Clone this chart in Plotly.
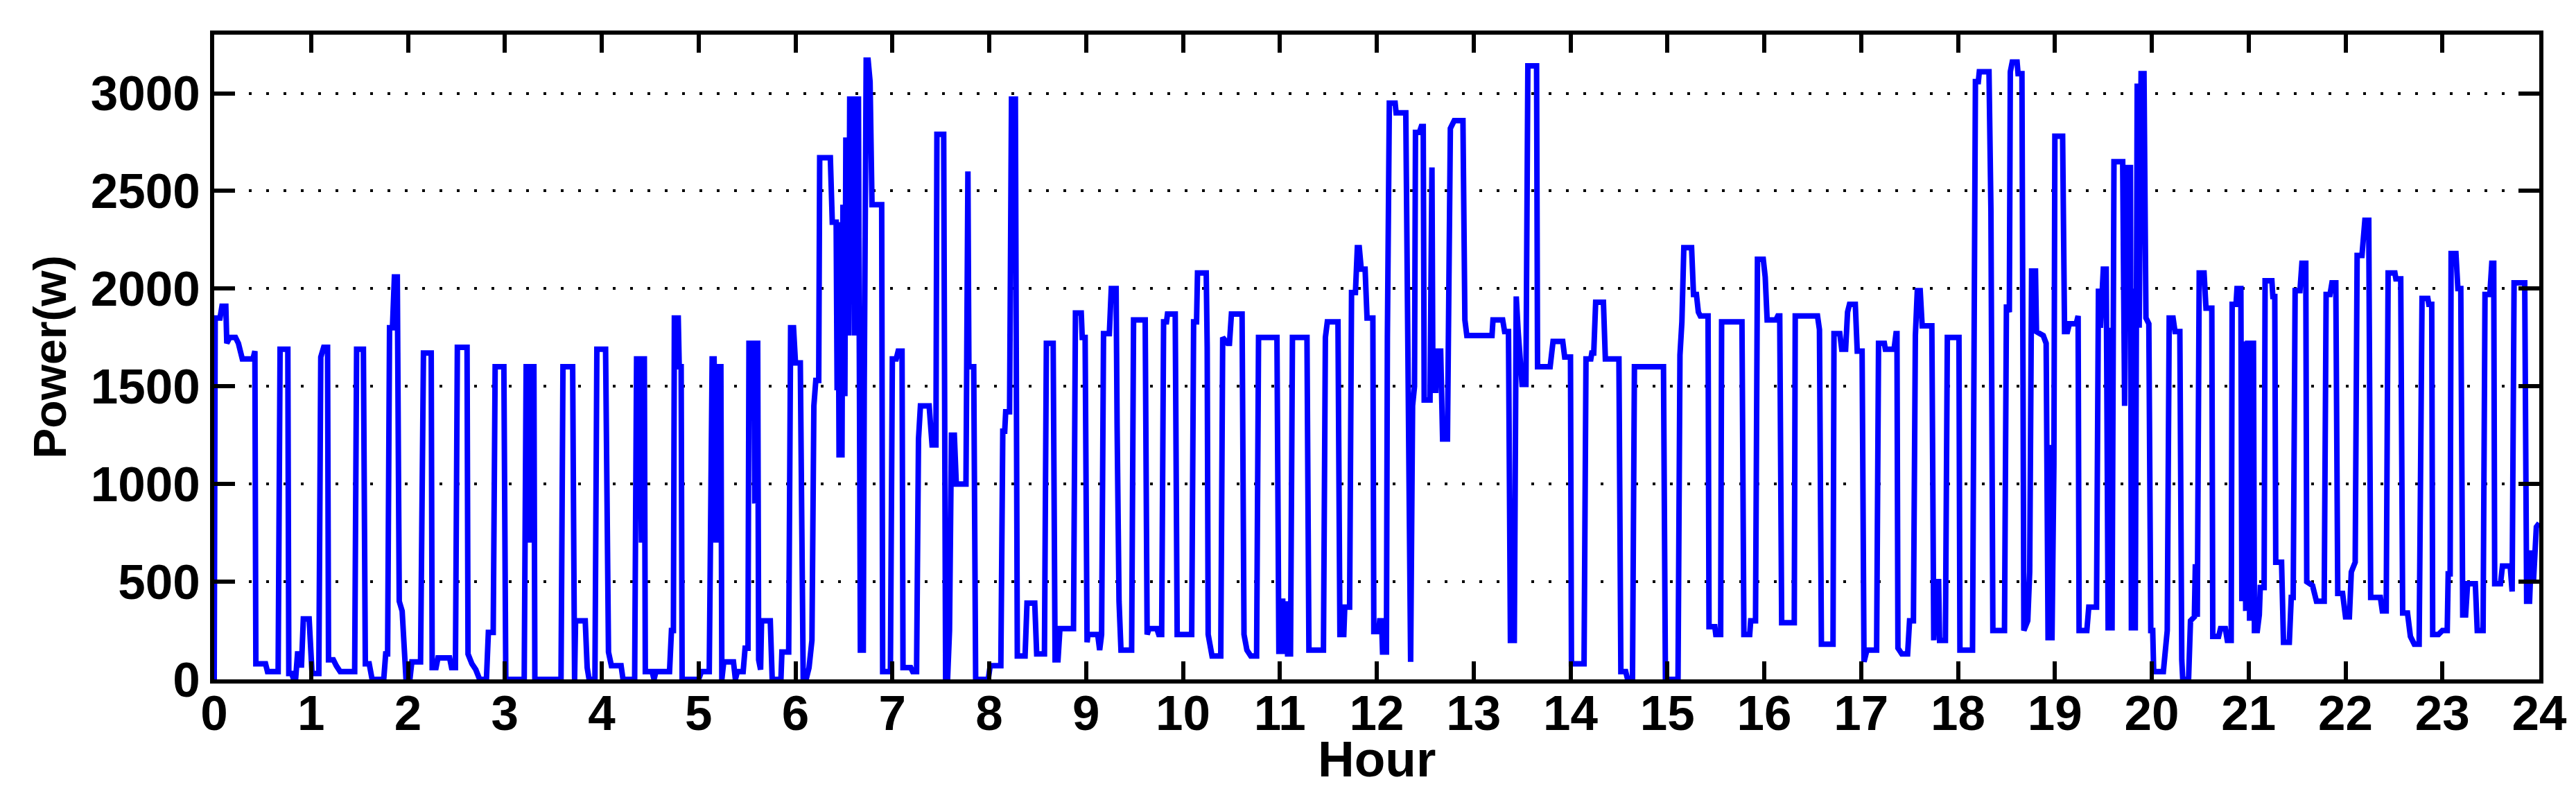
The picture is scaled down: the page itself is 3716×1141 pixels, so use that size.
import plotly.graph_objects as go

# ---- data: hour of day and power (W) ----
t_a = [0.00, 0.01, 0.06, 0.08, 0.12, 0.13, 0.16, 0.22, 0.25, 0.29,
       0.40, 0.42, 0.43, 0.53, 0.55, 0.66, 0.68, 0.76, 0.77, 0.80,
       0.82, 0.84, 0.86, 0.89, 0.90, 0.92, 0.98, 1.01, 1.08, 1.10,
       1.13, 1.17, 1.18, 1.23, 1.26, 1.30, 1.45, 1.47, 1.54, 1.56,
       1.60, 1.63, 1.75, 1.77, 1.79, 1.81, 1.84, 1.86, 1.89, 1.91,
       1.94, 1.98, 2.02, 2.04, 2.13, 2.16, 2.24, 2.25, 2.29, 2.31,
       2.43, 2.45, 2.49, 2.51, 2.61, 2.62, 2.66, 2.70, 2.74, 2.81,
       2.83, 2.88, 2.90, 2.99, 3.01, 3.20, 3.22, 3.25, 3.26, 3.28,
       3.30, 3.31, 3.58, 3.60, 3.70, 3.72, 3.73, 3.83, 3.85, 3.87,
       3.93, 3.95, 4.04, 4.07, 4.10, 4.20, 4.22, 4.34]
p_a = [0, 1850, 1850, 1910, 1910, 1720, 1750, 1750, 1720, 1640,
       1640, 1680, 80, 80, 40, 40, 1690, 1690, 30, 30,
       0, 0, 130, 130, 60, 310, 310, 30, 30, 1650,
       1700, 1700, 100, 100, 70, 40, 40, 1690, 1690, 80,
       80, 0, 0, 130, 130, 1800, 1800, 2060, 2060, 400,
       350, 0, 0, 90, 90, 1670, 1670, 60, 60, 110,
       110, 60, 60, 1700, 1700, 130, 80, 50, 0, 0,
       240, 240, 1600, 1600, 0, 0, 1600, 1600, 700, 1600,
       1600, 0, 0, 1600, 1600, 0, 300, 300, 60, 0,
       0, 1690, 1690, 140, 70, 70, 0, 0]

t_b = [4.36, 4.39, 4.41, 4.42, 4.44, 4.45, 4.52, 4.54, 4.56, 4.70,
       4.72, 4.74, 4.75, 4.79, 4.80, 4.82, 4.83, 5.00, 5.03, 5.11,
       5.14, 5.16, 5.18, 5.19, 5.23, 5.24, 5.26, 5.36, 5.38, 5.40,
       5.46, 5.48, 5.51, 5.52, 5.57, 5.58, 5.59, 5.61, 5.62, 5.64,
       5.65, 5.74, 5.76, 5.85, 5.86, 5.93, 5.95, 5.98, 6.00, 6.05,
       6.08, 6.11, 6.14, 6.17, 6.19, 6.21, 6.24, 6.25, 6.36, 6.38,
       6.42, 6.43, 6.44, 6.45, 6.48, 6.49, 6.51, 6.52, 6.54, 6.55,
       6.56, 6.60, 6.61, 6.63, 6.65, 6.67, 6.70, 6.71, 6.73, 6.75,
       6.77, 6.79, 6.89, 6.90, 6.98, 7.00, 7.04, 7.06, 7.10, 7.11,
       7.19, 7.21, 7.25, 7.27, 7.29, 7.38, 7.41, 7.45, 7.46, 7.53,
       7.55, 7.57, 7.59, 7.61, 7.64, 7.66, 7.76, 7.78, 7.79, 7.84,
       7.86, 7.99, 8.01, 8.12, 8.14, 8.16, 8.17, 8.21, 8.23, 8.27,
       8.29, 8.37, 8.39, 8.47, 8.49, 8.57, 8.59, 8.66, 8.68, 8.71,
       8.73, 8.87, 8.89, 8.95, 8.96, 8.99, 9.00]
p_b = [1640, 1640, 700, 1640, 1640, 40, 40, 0, 40, 40,
       250, 250, 1850, 1850, 1600, 1600, 0, 0, 40, 40,
       1640, 1640, 700, 1600, 1600, 0, 90, 90, 0, 40,
       40, 160, 160, 1720, 1720, 900, 1720, 1720, 100, 50,
       300, 300, 0, 0, 140, 140, 1800, 1800, 1620, 1620,
       0, 0, 60, 200, 1400, 1530, 1530, 2670, 2670, 2340,
       2340, 1480, 2340, 1150, 1150, 2430, 1450, 2760, 2760, 1760,
       2970, 2970, 1760, 2970, 2970, 150, 150, 1500, 3170, 3170,
       3060, 2430, 2430, 40, 40, 1640, 1640, 1680, 1680, 60,
       60, 40, 40, 1230, 1400, 1400, 1200, 1200, 2790, 2790,
       0, 0, 250, 1250, 1250, 1000, 1000, 2600, 1600, 1600,
       0, 0, 70, 70, 1270, 1270, 1370, 1370, 2970, 2970,
       120, 120, 390, 390, 130, 130, 1720, 1720, 100, 100,
       260, 260, 1875, 1875, 1750, 1750, 190]

t_c = [9.01, 9.02, 9.12, 9.14, 9.16, 9.18, 9.24, 9.26, 9.31, 9.32,
       9.34, 9.36, 9.47, 9.49, 9.61, 9.63, 9.65, 9.73, 9.75, 9.78,
       9.80, 9.83, 9.84, 9.92, 9.94, 10.09, 10.11, 10.14, 10.15, 10.24,
       10.25, 10.26, 10.28, 10.30, 10.39, 10.41, 10.46, 10.48, 10.50, 10.61,
       10.63, 10.66, 10.70, 10.76, 10.78, 10.97, 10.99, 11.01, 11.03, 11.04,
       11.07, 11.08, 11.11, 11.13, 11.28, 11.30, 11.45, 11.47, 11.49, 11.60,
       11.62, 11.66, 11.67, 11.72, 11.74, 11.78, 11.80, 11.82, 11.84, 11.88,
       11.90, 11.96, 11.97, 12.02, 12.03, 12.05, 12.06, 12.10]
p_c = [190, 230, 230, 150, 230, 1770, 1770, 2000, 2000, 1300,
       400, 150, 150, 1840, 1840, 230, 260, 260, 230, 230,
       1830, 1830, 1870, 1870, 230, 230, 1830, 1830, 2080, 2080,
       1700, 230, 170, 120, 120, 1750, 1720, 1720, 1870, 1870,
       230, 150, 120, 120, 1750, 1750, 130, 400, 400, 130,
       400, 130, 130, 1750, 1750, 150, 150, 1750, 1830, 1830,
       230, 230, 370, 370, 1980, 1980, 2210, 2210, 2100, 2100,
       1850, 1850, 245, 245, 300, 300, 140, 140]

t_d = [12.11, 12.13, 12.19, 12.20, 12.30, 12.32, 12.35, 12.37, 12.39, 12.40,
       12.44, 12.46, 12.48, 12.49, 12.55, 12.57, 12.58, 12.61, 12.62, 12.66,
       12.68, 12.73, 12.76, 12.80, 12.89, 12.91, 12.93, 13.19, 13.20, 13.30,
       13.32, 13.36, 13.38, 13.42, 13.44, 13.46, 13.50, 13.54, 13.56, 13.65,
       13.66, 13.79, 13.82, 13.92, 13.94, 14.00, 14.01, 14.14, 14.16, 14.21,
       14.22, 14.24, 14.26, 14.34, 14.36, 14.50, 14.52, 14.57, 14.59, 14.64,
       14.66, 14.96, 14.98, 15.11]
p_d = [1750, 2950, 2950, 2900, 2900, 1400, 90, 1400, 1500, 2800,
       2800, 2830, 2830, 1430, 1430, 2620, 1480, 1480, 1680, 1680,
       1230, 1230, 2820, 2860, 2860, 1840, 1760, 1760, 1840, 1840,
       1780, 1780, 200, 200, 1960, 1780, 1510, 1510, 3140, 3140,
       1600, 1600, 1730, 1730, 1650, 1650, 80, 80, 1640, 1640,
       1670, 1670, 1930, 1930, 1640, 1640, 40, 40, 0, 0,
       1600, 1600, 0, 0]

t_e = [15.13, 15.15, 15.17, 15.25, 15.27, 15.30, 15.32, 15.34, 15.42, 15.43,
       15.49, 15.50, 15.55, 15.56, 15.77, 15.79, 15.85, 15.86, 15.91, 15.93,
       15.99, 16.01, 16.03, 16.12, 16.14, 16.16, 16.18, 16.31, 16.32, 16.55,
       16.57, 16.59, 16.71, 16.72, 16.78, 16.80, 16.84, 16.86, 16.88, 16.94,
       16.96, 17.01, 17.03, 17.06, 17.16, 17.18, 17.24, 17.25, 17.34, 17.36,
       17.37, 17.38, 17.42, 17.48, 17.50, 17.54, 17.56, 17.58, 17.61, 17.63,
       17.73, 17.75, 17.77, 17.80, 17.81, 17.87, 17.89, 18.01]
p_e = [1660, 1830, 2210, 2210, 1970, 1970, 1880, 1860, 1860, 270,
       270, 230, 230, 1830, 1830, 230, 230, 300, 300, 2150,
       2150, 2060, 1840, 1840, 1860, 1860, 290, 290, 1860, 1860,
       1790, 180, 180, 1770, 1770, 1690, 1690, 1880, 1920, 1920,
       1680, 1680, 90, 150, 150, 1720, 1720, 1690, 1690, 1770,
       1770, 160, 130, 130, 300, 300, 1760, 1990, 1990, 1810,
       1810, 200, 500, 500, 200, 200, 1750, 1750]

t_f = [18.02, 18.15, 18.17, 18.18, 18.21, 18.22, 18.32, 18.34, 18.36, 18.48,
       18.50, 18.53, 18.54, 18.56, 18.61, 18.62, 18.66, 18.68, 18.72, 18.74,
       18.76, 18.80, 18.81, 18.88, 18.91, 18.93, 18.95, 18.97, 18.99, 19.00,
       19.08, 19.10, 19.13, 19.15, 19.22, 19.24, 19.25, 19.33, 19.35, 19.43,
       19.45, 19.47, 19.50, 19.53, 19.55, 19.57, 19.59, 19.61, 19.70, 19.72,
       19.74, 19.78, 19.79, 19.81, 19.83, 19.85, 19.87, 19.89, 19.92, 19.94,
       19.97, 19.99, 20.01, 20.02, 20.12, 20.14, 20.16, 20.18, 20.22, 20.24,
       20.29, 20.31, 20.32, 20.38, 20.40, 20.44, 20.45, 20.47, 20.49, 20.54,
       20.56, 20.62, 20.63, 20.69, 20.71, 20.76, 20.78, 20.82, 20.83, 20.87,
       20.88, 20.92, 20.93, 20.95]
p_f = [150, 150, 2000, 3060, 3060, 3110, 3110, 2400, 250, 250,
       1920, 1880, 3110, 3160, 3160, 3100, 3100, 250, 300, 550,
       2090, 2090, 1780, 1760, 1720, 200, 1200, 200, 1100, 2780,
       2780, 1780, 1780, 1820, 1820, 1860, 250, 250, 370, 370,
       2000, 1800, 2100, 2100, 250, 1800, 250, 2650, 2650, 1400,
       2620, 2620, 250, 2000, 250, 3050, 1800, 3100, 3100, 1850,
       1820, 250, 250, 40, 40, 200, 250, 1850, 1850, 1780,
       1780, 100, 0, 0, 300, 320, 590, 320, 2080, 2080,
       1900, 1900, 220, 220, 260, 260, 200, 200, 1920, 1920,
       2000, 2000, 400, 1730]

t_g = [20.97, 20.99, 21.00, 21.01, 21.03, 21.05, 21.06, 21.09, 21.11, 21.12,
       21.16, 21.17, 21.24, 21.25, 21.27, 21.28, 21.34, 21.36, 21.42, 21.44,
       21.46, 21.48, 21.53, 21.55, 21.59, 21.60, 21.66, 21.70, 21.78, 21.80,
       21.84, 21.86, 21.90, 21.92, 21.97, 22.00, 22.04, 22.06, 22.10, 22.12,
       22.17, 22.20, 22.24, 22.26, 22.36, 22.38, 22.42, 22.44, 22.51, 22.52,
       22.57, 22.59, 22.64, 22.67, 22.71, 22.76, 22.79, 22.85, 22.86, 22.89,
       22.90, 22.96, 23.00, 23.05, 23.06, 23.08, 23.09, 23.14, 23.16, 23.19,
       23.21, 23.24, 23.26, 23.34, 23.36, 23.42, 23.44, 23.49, 23.51, 23.53,
       23.54, 23.60, 23.62, 23.70, 23.72, 23.74, 23.85, 23.87, 23.90, 23.92,
       23.94, 23.97, 24.00]
p_g = [350, 1720, 1720, 300, 1720, 1720, 250, 250, 330, 470,
       470, 2040, 2040, 1960, 1960, 600, 600, 190, 190, 420,
       420, 1990, 1990, 2130, 2130, 500, 480, 400, 400, 1970,
       1970, 2030, 2030, 440, 440, 320, 320, 550, 600, 2170,
       2170, 2350, 2350, 420, 420, 350, 350, 2080, 2080, 2050,
       2050, 340, 340, 220, 180, 180, 1950, 1950, 1920, 1920,
       230, 230, 250, 250, 540, 540, 2180, 2180, 2000, 2000,
       330, 330, 490, 490, 250, 250, 1970, 1970, 2130, 2130,
       490, 490, 580, 580, 450, 2030, 2030, 400, 400, 660,
       500, 780, 800]

x_ticks = list(range(0, 25))
y_ticks = [0, 500, 1000, 1500, 2000, 2500, 3000]
x_title = "Hour"
y_title = "Power(w)"

hours = []
power = []
for tt, pp in [(t_a, p_a), (t_b, p_b), (t_c, p_c), (t_d, p_d),
               (t_e, p_e), (t_f, p_f), (t_g, p_g)]:
    n = min(len(tt), len(pp))
    hours += tt[:n]
    power += pp[:n]

FAMILY = "Liberation Sans, Arial, sans-serif"
tick_font = dict(family=FAMILY, size=71, color="black", weight="bold")
xtitle_font = dict(family=FAMILY, size=73, color="black", weight="bold")
ytitle_font = dict(family=FAMILY, size=66, color="black", weight="bold")

fig = go.Figure(go.Scatter(x=hours, y=power, mode="lines",
                           line=dict(color="#0000FF", width=8),
                           hoverinfo="skip"))

fig.update_layout(width=3716, height=1141,
                  margin=dict(l=301, r=61, t=42, b=169),
                  paper_bgcolor="white", plot_bgcolor="white",
                  showlegend=False, font=tick_font)

fig.update_xaxes(range=[0, 24], tickmode="array", tickvals=x_ticks,
                 ticktext=[str(v) for v in x_ticks],
                 ticks="inside", ticklen=26, tickwidth=6, tickcolor="black",
                 showline=True, linewidth=6, linecolor="black", mirror="ticks",
                 showgrid=False, zeroline=False, tickfont=tick_font,
                 ticklabelstandoff=-18)

fig.update_yaxes(range=[0, 3300], tickmode="array", tickvals=y_ticks,
                 ticktext=[str(v) for v in y_ticks],
                 ticks="inside", ticklen=30, tickwidth=6, tickcolor="black",
                 showline=True, linewidth=6, linecolor="black", mirror="ticks",
                 showgrid=True, gridcolor="black", gridwidth=4,
                 griddash="4px,21px", zeroline=False, tickfont=tick_font,
                 title=dict(text=y_title, font=ytitle_font, standoff=16))

# x-axis title placed as an annotation just under the tick labels
fig.add_annotation(text=x_title, xref="paper", yref="paper",
                   x=0.5, y=-0.123, xanchor="center", yanchor="middle",
                   showarrow=False, font=xtitle_font)

fig.write_html("out.html")
